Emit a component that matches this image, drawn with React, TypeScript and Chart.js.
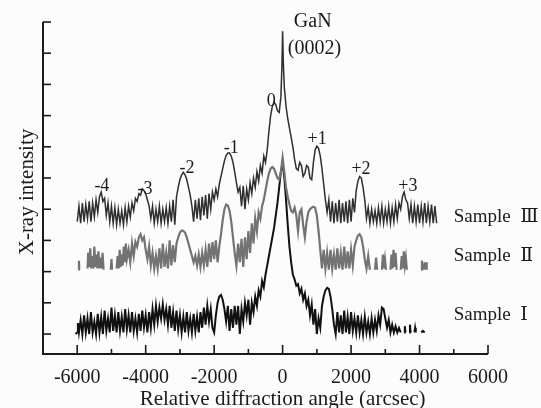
import React, { useEffect, useRef } from "react";
import { Chart, registerables } from "chart.js";

Chart.register(...registerables);

// ---- axis definitions ----
const xMajorTicks = [-6000, -4000, -2000, 0, 2000, 4000, 6000];
const xMinorTicks = [-5000, -3000, -1000, 1000, 3000, 5000];
const yTicks = [0, 1, 2, 3, 4, 5, 6, 7, 8, 9, 10];
const xAxisTitle = "Relative diffraction angle (arcsec)";
const yAxisTitle = "X-ray intensity";

// ---- series (x in arcsec, y in offset intensity units) ----
const sampleIII: [number, number | null][] = [
  [-6000,3.6],[-5950,4.1],[-5900,3.55],[-5850,4.2],[-5800,3.6],[-5750,4.15],[-5700,3.7],[-5650,4.25],[-5600,3.6],[-5550,4.2],
  [-5500,3.75],[-5450,4.3],[-5400,3.9],[-5350,4.4],[-5300,4.55],[-5250,4.25],[-5200,4.35],[-5150,3.8],[-5100,4.2],[-5050,3.6],
  [-5000,4.1],[-4950,3.55],[-4900,4.05],[-4850,3.5],[-4800,4.0],[-4750,3.55],[-4700,3.95],[-4650,3.5],[-4600,4.05],[-4550,3.6],
  [-4500,4.1],[-4450,3.75],[-4400,4.2],[-4350,3.95],[-4300,4.35],[-4250,4.25],[-4200,4.5],[-4150,4.45],[-4100,4.65],[-4050,4.6],
  [-4000,4.5],[-3950,4.3],[-3900,4.1],[-3850,3.7],[-3800,4.1],[-3750,3.55],[-3700,4.0],[-3650,3.6],[-3600,4.1],[-3550,3.55],
  [-3500,4.0],[-3450,3.6],[-3400,4.05],[-3350,3.55],[-3300,4.1],[-3250,3.6],[-3200,4.3],[-3150,3.5],[-3100,4.4],[-3050,4.7],
  [-3000,4.95],[-2950,5.1],[-2900,5.18],[-2850,5.1],[-2800,4.95],[-2750,4.7],[-2700,4.45],[-2650,4.1],[-2600,3.6],[-2550,4.3],
  [-2500,3.7],[-2450,4.35],[-2400,3.65],[-2350,4.4],[-2300,3.8],[-2250,4.45],[-2200,3.7],[-2150,4.5],[-2100,4.0],[-2050,4.55],
  [-2000,4.3],[-1950,4.65],[-1900,4.4],[-1850,4.8],[-1800,5.05],[-1750,5.3],[-1700,5.55],[-1650,5.72],[-1600,5.8],[-1550,5.8],
  [-1500,5.7],[-1450,5.5],[-1400,5.2],[-1350,4.85],[-1300,4.55],[-1250,4.7],[-1200,4.1],[-1150,4.75],[-1100,4.0],[-1050,4.65],
  [-1000,4.3],[-950,4.85],[-900,4.5],[-850,5.0],[-800,4.7],[-750,5.2],[-700,4.9],[-650,5.4],[-600,5.15],[-550,5.7],
  [-500,5.5],[-450,5.9],[-400,6.5],[-350,7.0],[-300,7.3],[-250,7.42],[-200,7.35],[-150,7.15],[-100,7.1],[-50,7.6],
  [-20,8.6],[0,9.7],[20,8.7],[50,7.9],[100,7.3],[150,6.9],[200,6.6],[250,6.3],[300,6.0],[350,5.6],
  [400,5.3],[450,5.25],[500,5.5],[550,5.4],[600,5.05],[650,5.15],[700,5.4],[750,5.35],[800,5.0],[850,4.95],
  [900,5.5],[950,5.9],[1000,6.02],[1050,5.95],[1100,5.7],[1150,5.3],[1200,4.8],[1250,4.3],[1300,3.9],[1350,4.3],
  [1400,3.6],[1450,4.25],[1500,3.55],[1550,4.2],[1600,3.6],[1650,4.3],[1700,3.55],[1750,4.2],[1800,3.6],[1850,4.25],
  [1900,3.55],[1950,4.3],[2000,3.6],[2050,4.35],[2100,3.9],[2150,4.6],[2200,4.9],[2250,5.05],[2300,5.0],[2350,4.7],
  [2400,4.3],[2450,3.7],[2500,4.05],[2550,3.55],[2600,4.0],[2650,3.6],[2700,3.95],[2750,3.55],[2800,4.05],[2850,3.6],
  [2900,4.1],[2950,3.55],[3000,4.0],[3050,3.6],[3100,4.1],[3150,3.55],[3200,4.05],[3250,3.6],[3300,4.15],[3350,3.7],
  [3400,4.2],[3450,4.0],[3500,4.4],[3550,4.55],[3600,4.3],[3650,4.2],[3700,3.7],[3750,4.15],[3800,3.55],[3850,4.1],
  [3900,3.6],[3950,4.15],[4000,3.55],[4050,4.1],[4100,3.6],[4150,4.2],[4200,3.55],[4250,4.1],[4300,3.6],[4350,4.15],
  [4400,3.55],[4450,4.1],[4500,3.55],
];

const sampleII: [number, number | null][] = [
  [-5960,2.06],[-5950,2.35],[-5940,2.06],[-5900,null],
  [-5700,2.1],[-5680,2.6],[-5650,2.15],[-5620,2.75],[-5590,2.1],[-5560,2.5],[-5530,2.1],[-5500,2.8],[-5470,2.15],[-5440,2.55],
  [-5410,2.1],[-5380,2.65],[-5350,2.1],[-5320,2.45],[-5290,2.1],[-5260,2.6],[-5230,2.06],[-5200,null],
  [-5020,2.06],[-5000,2.4],[-4980,2.06],[-4960,null],
  [-4850,2.1],[-4820,2.5],[-4790,2.1],[-4760,2.7],[-4730,2.15],[-4700,2.55],[-4670,2.2],[-4640,2.8],[-4610,2.3],[-4580,2.9],
  [-4550,2.4],[-4500,2.7],[-4450,2.3],[-4400,2.9],[-4350,2.5],[-4300,2.95],[-4250,2.8],[-4200,3.1],[-4150,3.2],[-4100,3.0],
  [-4050,3.1],[-4000,2.7],[-3950,2.4],[-3900,2.8],[-3850,2.2],[-3800,2.6],[-3750,2.1],[-3700,2.5],[-3650,2.1],[-3600,2.75],
  [-3550,2.1],[-3500,2.9],[-3450,2.15],[-3400,2.6],[-3350,2.1],[-3300,3.0],[-3250,2.2],[-3200,2.85],[-3150,2.3],[-3100,2.9],
  [-3050,3.1],[-3000,3.25],[-2950,3.32],[-2900,3.3],[-2850,3.25],[-2800,3.1],[-2750,2.9],[-2700,2.7],[-2650,2.5],[-2600,2.3],
  [-2550,2.5],[-2500,2.2],[-2450,2.55],[-2400,2.15],[-2350,2.6],[-2300,2.2],[-2250,2.7],[-2200,2.15],[-2150,2.9],[-2100,2.3],
  [-2050,2.95],[-2000,2.4],[-1950,3.0],[-1900,2.3],[-1850,2.8],[-1800,3.2],[-1750,3.65],[-1700,4.0],[-1650,4.15],[-1600,4.12],
  [-1550,3.95],[-1500,3.6],[-1450,3.1],[-1400,2.6],[-1350,2.2],[-1300,2.9],[-1250,2.3],[-1200,3.05],[-1150,2.15],[-1100,3.1],
  [-1050,2.4],[-1000,3.3],[-950,2.6],[-900,3.55],[-850,2.9],[-800,3.7],[-750,3.3],[-700,3.9],[-650,3.7],[-600,4.1],
  [-550,4.3],[-500,4.6],[-450,4.9],[-400,5.15],[-350,5.3],[-300,5.35],[-250,5.3],[-200,5.15],[-150,5.0],[-100,4.95],
  [-50,5.2],[0,5.65],[50,5.2],[100,4.7],[150,4.4],[200,4.15],[250,3.95],[300,3.9],[350,4.05],[400,3.8],
  [450,3.3],[500,3.9],[550,4.0],[600,3.5],[650,3.1],[700,3.6],[750,3.9],[800,4.0],[850,4.05],[900,4.08],
  [950,4.05],[1000,3.8],[1050,3.3],[1100,2.7],[1150,2.1],[1200,2.7],[1250,2.1],[1300,2.6],[1350,2.06],[1400,2.7],
  [1450,2.1],[1500,2.55],[1550,2.06],[1600,2.75],[1650,2.1],[1700,2.6],[1750,2.06],[1800,2.8],[1850,2.1],[1900,2.65],
  [1950,2.1],[2000,2.7],[2050,2.2],[2100,2.8],[2150,3.0],[2200,3.15],[2250,3.2],[2300,3.1],[2350,2.8],[2400,2.4],
  [2450,2.1],[2500,2.5],[2550,2.06],[2580,null],
  [2700,2.06],[2730,2.45],[2760,2.06],[2800,null],
  [2900,2.06],[2930,2.55],[2960,2.1],[2990,2.4],[3020,2.06],[3050,null],
  [3150,2.06],[3180,2.55],[3210,2.1],[3240,2.7],[3270,2.15],[3300,2.6],[3330,2.06],[3360,null],
  [3450,2.06],[3480,2.5],[3510,2.1],[3540,2.65],[3570,2.2],[3600,2.45],[3630,2.06],[3660,null],
  [4050,2.06],[4070,2.35],[4090,2.06],[4110,null],
  [4130,2.06],[4150,2.3],[4170,2.06],[4190,2.3],[4210,2.06],
];

const sampleI: [number, number | null][] = [
  [-6050,0.0],[-6000,0.05],[-5980,0.35],[-5950,0.05],[-5900,0.45],[-5850,0.0],[-5800,0.6],[-5750,0.05],[-5700,0.5],[-5650,0.0],
  [-5600,0.7],[-5550,0.05],[-5500,0.4],[-5450,0.0],[-5400,0.65],[-5350,0.05],[-5300,0.55],[-5250,0.0],[-5200,0.75],[-5150,0.1],
  [-5100,0.5],[-5050,0.05],[-5000,0.85],[-4950,0.1],[-4900,0.6],[-4850,0.05],[-4800,0.7],[-4750,0.1],[-4700,0.55],[-4650,0.05],
  [-4600,0.8],[-4550,0.15],[-4500,0.6],[-4450,0.05],[-4400,0.7],[-4350,0.1],[-4300,0.5],[-4250,0.05],[-4200,0.65],[-4150,0.1],
  [-4100,0.75],[-4050,0.2],[-4000,0.6],[-3950,0.05],[-3900,0.7],[-3850,0.2],[-3800,0.8],[-3750,0.3],[-3700,0.9],[-3650,0.4],
  [-3600,0.85],[-3550,0.5],[-3500,0.95],[-3450,0.45],[-3400,0.8],[-3350,0.3],[-3300,0.9],[-3250,0.2],[-3200,0.7],[-3150,0.1],
  [-3100,0.75],[-3050,0.15],[-3000,0.6],[-2950,0.05],[-2900,0.55],[-2850,0.05],[-2800,0.7],[-2750,0.1],[-2700,0.5],[-2650,0.05],
  [-2600,0.65],[-2550,0.1],[-2500,0.55],[-2450,0.05],[-2400,0.7],[-2350,0.2],[-2300,0.85],[-2250,0.3],[-2200,0.9],[-2150,0.4],
  [-2100,0.8],[-2050,0.2],[-2000,0.05],[-1950,0.6],[-1900,1.0],[-1850,1.2],[-1800,1.25],[-1750,1.1],[-1700,0.8],[-1650,0.4],
  [-1600,0.9],[-1550,0.1],[-1500,0.8],[-1450,0.2],[-1400,0.9],[-1350,0.3],[-1300,0.9],[-1250,0.0],[-1200,0.8],[-1150,0.4],
  [-1100,1.0],[-1050,0.6],[-1000,1.1],[-950,0.3],[-900,1.0],[-850,0.7],[-800,1.2],[-750,0.9],[-700,1.4],[-650,1.2],
  [-600,1.7],[-550,1.5],[-500,1.9],[-450,2.2],[-400,2.5],[-350,2.8],[-300,3.1],[-250,3.4],[-200,3.8],[-150,4.2],
  [-100,4.7],[-50,5.2],[0,5.5],[50,5.0],[100,4.3],[150,3.5],[200,2.8],[250,2.3],[300,1.9],[350,1.75],
  [400,1.55],[450,1.6],[500,1.3],[550,1.45],[600,1.1],[650,1.3],[700,0.9],[750,1.1],[800,0.6],[850,0.95],
  [900,0.3],[950,0.8],[1000,0.0],[1050,0.5],[1100,0.2],[1150,0.9],[1200,1.2],[1250,1.4],[1300,1.48],[1350,1.45],
  [1400,1.2],[1450,0.8],[1500,0.3],[1550,0.0],[1600,0.7],[1650,0.05],[1700,0.6],[1750,0.0],[1800,0.75],[1850,0.05],
  [1900,0.55],[1950,0.0],[2000,0.7],[2050,0.1],[2100,0.5],[2150,0.05],[2200,0.6],[2250,0.05],[2300,0.45],[2350,0.0],
  [2400,0.55],[2450,0.05],[2500,0.4],[2550,0.0],[2600,0.5],[2650,0.05],[2700,0.45],[2750,0.1],[2800,0.6],[2850,0.3],
  [2900,0.85],[2950,0.8],[3000,0.5],[3050,0.2],[3100,0.45],[3150,0.05],[3200,0.3],[3250,0.05],[3300,0.25],[3350,0.05],
  [3400,0.2],[3450,0.05],[3480,null],
  [3550,0.05],[3570,0.25],[3590,0.05],[3610,null],
  [3700,0.05],[3720,0.3],[3740,0.05],[3760,null],
  [3850,0.05],[3870,0.2],[3890,0.05],[3910,null],
  [4050,0.05],[4100,0.1],[4150,0.05],
];

// ---- annotations ----
const peakLabels = ["-4", "-3", "-2", "-1", "0", "+1", "+2", "+3"];
const peakLabelX = [-5280, -4020, -2790, -1500, -330, 1010, 2290, 3660];
const peakLabelY = [4.72, 4.64, 5.3, 5.95, 7.47, 6.23, 5.28, 4.72];
const sampleNames = ["Sample  \u2162", "Sample  \u2161", "Sample  \u2160"];
const sampleNameX = 5000;
const sampleNameY = [3.74, 2.5, 0.6];
const gaNLabel = ["GaN", "(0002)"];
const gaNLabelX = [880, 930];
const gaNLabelY = [10.0, 9.15];

const SERIF = '"Liberation Serif", "DejaVu Serif", serif';
const INK = "#1a1a1a";

const toXY = (arr: [number, number | null][]) => arr.map(([x, y]) => ({ x, y }));

const framePlugin = {
  id: "frame",
  beforeDraw(chart: any) {
    const ctx = chart.ctx;
    ctx.save();
    ctx.fillStyle = "#fcfcfc";
    ctx.fillRect(0, 0, chart.width, chart.height);
    ctx.restore();
  },
  afterDraw(chart: any) {
    const ctx = chart.ctx;
    const xs = chart.scales.x;
    const ys = chart.scales.y;
    const { left, right, top, bottom } = chart.chartArea;
    ctx.save();
    ctx.strokeStyle = INK;
    ctx.fillStyle = INK;
    // axis lines
    ctx.lineWidth = 2;
    ctx.beginPath();
    ctx.moveTo(left, top);
    ctx.lineTo(left, bottom);
    ctx.lineTo(right, bottom);
    ctx.stroke();
    // y ticks (inward)
    ctx.lineWidth = 1.6;
    yTicks.forEach((v) => {
      const py = ys.getPixelForValue(v);
      ctx.beginPath();
      ctx.moveTo(left, py);
      ctx.lineTo(left + 8, py);
      ctx.stroke();
    });
    // x ticks (inward)
    xMajorTicks.forEach((v) => {
      const px = xs.getPixelForValue(v);
      ctx.beginPath();
      ctx.moveTo(px, bottom);
      ctx.lineTo(px, bottom - 9);
      ctx.stroke();
    });
    xMinorTicks.forEach((v) => {
      const px = xs.getPixelForValue(v);
      ctx.beginPath();
      ctx.moveTo(px, bottom);
      ctx.lineTo(px, bottom - 5);
      ctx.stroke();
    });
    // x tick labels
    ctx.font = `20px ${SERIF}`;
    ctx.textAlign = "center";
    ctx.textBaseline = "middle";
    xMajorTicks.forEach((v) => {
      ctx.fillText(String(v), xs.getPixelForValue(v), bottom + 24);
    });
    // axis titles
    ctx.font = `21px ${SERIF}`;
    ctx.fillText(xAxisTitle, xs.getPixelForValue(0), bottom + 45);
    ctx.save();
    ctx.translate(left - 16, (top + bottom) / 2 + 4);
    ctx.rotate(-Math.PI / 2);
    ctx.fillText(yAxisTitle, 0, 0);
    ctx.restore();
    // peak order labels
    ctx.font = `18px ${SERIF}`;
    peakLabels.forEach((t, i) => {
      ctx.fillText(t, xs.getPixelForValue(peakLabelX[i]), ys.getPixelForValue(peakLabelY[i]));
    });
    // GaN (0002)
    ctx.font = `20px ${SERIF}`;
    gaNLabel.forEach((t, i) => {
      ctx.fillText(t, xs.getPixelForValue(gaNLabelX[i]), ys.getPixelForValue(gaNLabelY[i]));
    });
    // sample names
    ctx.textAlign = "left";
    ctx.font = `19px ${SERIF}`;
    sampleNames.forEach((t, i) => {
      ctx.fillText(t, xs.getPixelForValue(sampleNameX), ys.getPixelForValue(sampleNameY[i]));
    });
    ctx.restore();
  },
};

export default function App() {
  const canvasRef = useRef<HTMLCanvasElement | null>(null);
  useEffect(() => {
    if (!canvasRef.current) return;
    const chart = new Chart(canvasRef.current, {
      type: "line",
      data: {
        datasets: [
          { label: "Sample III", data: toXY(sampleIII), borderColor: "#2e2e2e", borderWidth: 1.5 },
          { label: "Sample II", data: toXY(sampleII), borderColor: "#737373", borderWidth: 2.2 },
          { label: "Sample I", data: toXY(sampleI), borderColor: "#111111", borderWidth: 2 },
        ] as any,
      },
      options: {
        animation: false,
        responsive: false,
        spanGaps: false,
        parsing: false as any,
        elements: { point: { radius: 0 }, line: { tension: 0 } },
        layout: { padding: { left: 43, right: 53, top: 22, bottom: 54 } },
        scales: {
          x: { type: "linear", min: -7000, max: 6000, display: false },
          y: { type: "linear", min: -0.64, max: 10, display: false },
        },
        plugins: { legend: { display: false }, tooltip: { enabled: false } },
      },
      plugins: [framePlugin],
    });
    return () => chart.destroy();
  }, []);
  return (
    <div style={{ position: "fixed", left: 0, top: 0, width: 541, height: 408 }}>
      <canvas ref={canvasRef} width={541} height={408} style={{ display: "block" }} />
    </div>
  );
}
